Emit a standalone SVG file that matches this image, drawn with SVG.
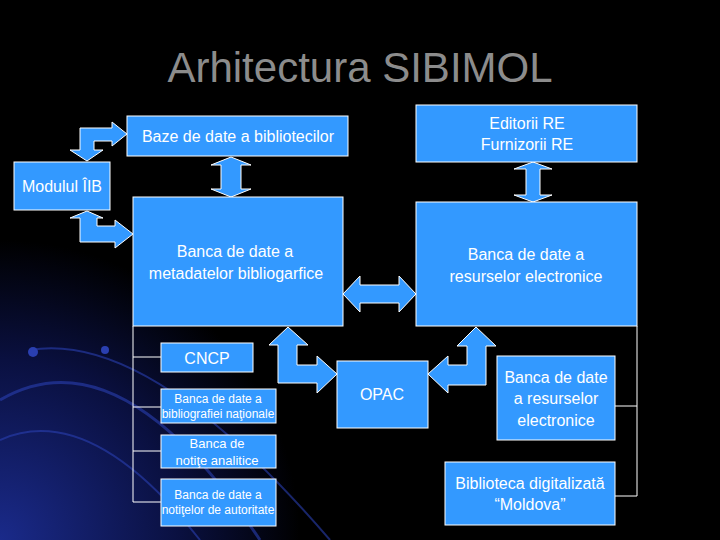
<svg xmlns="http://www.w3.org/2000/svg" width="720" height="540" viewBox="0 0 720 540">
<defs>
<radialGradient id="glow" cx="0" cy="540" r="300" gradientUnits="userSpaceOnUse">
<stop offset="0" stop-color="#1a2a8a"/><stop offset="0.6" stop-color="#0a1040"/><stop offset="1" stop-color="#000"/>
</radialGradient>
<style>
.b{fill:#3399ff;stroke:#fff;stroke-width:1}
.t{font-family:"Liberation Sans",Arial,sans-serif;fill:#fff;text-anchor:middle}
.l{fill:none;stroke:#fff;stroke-width:1}
</style>
</defs>
<rect width="720" height="540" fill="#000"/>
<rect width="720" height="540" fill="url(#glow)"/>
<g fill="none" stroke="#2a3fb0" stroke-opacity="0.6">
<path d="M0 400 Q120 330 260 540" stroke-width="3"/>
<path d="M0 440 Q90 400 200 540" stroke-width="2"/>
<path d="M30 350 Q150 330 330 540" stroke-width="2"/>
</g>
<circle cx="33" cy="352" r="5" fill="#2a3fb0"/>
<circle cx="105" cy="350" r="4" fill="#2a3fb0"/>
<text x="360" y="82" class="t" style="fill:#8c8c8c;font-size:42px">Arhitectura SIBIMOL</text>

<g id="connectors">
<path class="b" d="M87 161 L70 150 L80 150 L80 128 L112 128 L112 122 L127 134 L112 146 L112 141 L94 141 L94 150 L103 150 Z"/>
<path class="b" d="M87 211 L70 218 L80 218 L80 242 L115 242 L115 248 L133 234 L115 220 L115 226 L97 226 L97 218 L103 218 Z"/>
<path class="b" d="M231 157 L251 165 L241 165 L241 189 L251 189 L231 197 L211 189 L221 189 L221 165 L211 165 Z"/>
<path class="b" d="M533 162 L552 169 L540 169 L540 195 L552 195 L533 202 L514 195 L526 195 L526 169 L514 169 Z"/>
<path class="b" d="M343 294 L360 276 L360 285 L399 285 L399 276 L416 294 L399 312 L399 303 L360 303 L360 312 Z"/>
<path class="b" d="M288 327 L308 345 L297 345 L297 365 L317 365 L317 356 L337 374 L317 393 L317 383 L278 383 L278 345 L269 345 Z"/>
<path class="b" d="M476 327 L496 346 L486 346 L486 385 L448 385 L448 393 L428 374 L448 356 L448 365 L467 365 L467 346 L457 346 Z"/>
<path class="l" d="M133 326 V502 M133 357 H161 M133 407 H161 M133 451 H161 M133 502 H161"/>
<path class="l" d="M637 326 V496 M615 406 H637 M615 496 H637"/>
</g>

<g id="baze"><rect class="b" x="127" y="116" width="221" height="40"/><text class="t" x="238" y="142" font-size="16">Baze de date a bibliotecilor</text></g>
<g id="modulul"><rect class="b" x="14" y="162" width="96" height="48"/><text class="t" x="62" y="192" font-size="16">Modulul ÎIB</text></g>
<g id="editorii"><rect class="b" x="416" y="105" width="221" height="57"/><text class="t" x="527" y="129" font-size="16">Editorii RE</text><text class="t" x="527" y="150" font-size="16">Furnizorii RE</text></g>
<g id="meta"><rect class="b" x="133" y="197" width="210" height="129"/><text class="t" x="235" y="257" font-size="16">Banca de date a</text><text class="t" x="236" y="279" font-size="16">metadatelor bibliogarfice</text></g>
<g id="resurse"><rect class="b" x="416" y="202" width="221" height="124"/><text class="t" x="526" y="260" font-size="16">Banca de date a</text><text class="t" x="526" y="282" font-size="16">resurselor electronice</text></g>
<g id="cncp"><rect class="b" x="161" y="343" width="92" height="29"/><text class="t" x="207" y="364" font-size="16">CNCP</text></g>
<g id="bibliografie"><rect class="b" x="161" y="389" width="115" height="34"/><text class="t" x="218" y="403" font-size="12">Banca de date a</text><text class="t" x="218" y="418" font-size="12">bibliografiei naţionale</text></g>
<g id="notite"><rect class="b" x="161" y="435" width="115" height="33"/><text class="t" x="217" y="448" font-size="13">Banca de</text><text class="t" x="217" y="465" font-size="13">notiţe analitice</text></g>
<g id="autoritate"><rect class="b" x="161" y="479" width="115" height="47"/><text class="t" x="218" y="499" font-size="12">Banca de date a</text><text class="t" x="218" y="514" font-size="12">notiţelor de autoritate</text></g>
<g id="opac"><rect class="b" x="337" y="361" width="91" height="67"/><text class="t" x="382" y="400" font-size="16">OPAC</text></g>
<g id="resurse2"><rect class="b" x="497" y="356" width="118" height="84"/><text class="t" x="556" y="383" font-size="16">Banca de date</text><text class="t" x="556" y="404" font-size="16">a resurselor</text><text class="t" x="556" y="426" font-size="16">electronice</text></g>
<g id="biblioteca"><rect class="b" x="445" y="462" width="170" height="63"/><text class="t" x="530" y="489" font-size="16">Biblioteca digitalizată</text><text class="t" x="530" y="510" font-size="16">“Moldova”</text></g>
</svg>
